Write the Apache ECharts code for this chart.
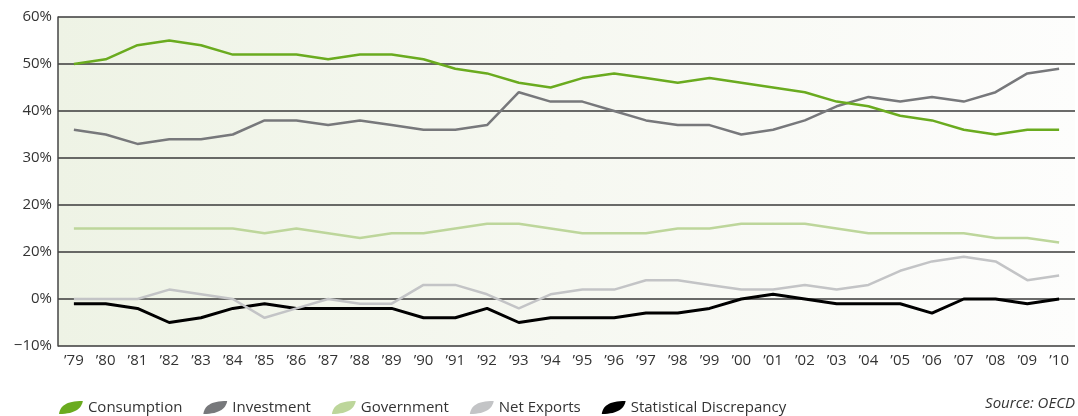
<!DOCTYPE html>
<html>
<head>
<meta charset="utf-8">
<script src="https://cdn.jsdelivr.net/npm/echarts@6/dist/echarts.min.js"></script>
<style>
html,body{margin:0;padding:0;background:#fff;}
#chart{width:1078px;height:416px;}
</style>
</head>
<body>
<div id="chart"></div>
<script>
const years = ["’79","’80","’81","’82","’83","’84","’85","’86","’87","’88","’89","’90","’91","’92","’93","’94","’95","’96","’97","’98","’99","’00","’01","’02","’03","’04","’05","’06","’07","’08","’09","’10"];
const consumption = [50,51,54,55,54,52,52,52,51,52,52,51,49,48,46,45,47,48,47,46,47,46,45,44,42,41,39,38,36,35,36,36];
const investment = [36,35,33,34,34,35,38,38,37,38,37,36,36,37,44,42,42,40,38,37,37,35,36,38,41,43,42,43,42,44,48,49];
const government = [15,15,15,15,15,15,14,15,14,13,14,14,15,16,16,15,14,14,14,15,15,16,16,16,15,14,14,14,14,13,13,12];
const netExports = [0,0,0,2,1,0,-4,-2,0,-1,-1,3,3,1,-2,1,2,2,4,4,3,2,2,3,2,3,6,8,9,8,4,5];
const discrepancy = [-1,-1,-2,-5,-4,-2,-1,-2,-2,-2,-2,-4,-4,-2,-5,-4,-4,-4,-3,-3,-2,0,1,0,-1,-1,-1,-3,0,0,-1,0];
const yTickValues = [-10,0,10,20,30,40,50,60];
const yTickLabels = ["−10%","0%","20%","20%","30%","40%","50%","60%"];

const seriesNames = ["Consumption","Investment","Government","Net Exports","Statistical Discrepancy"];
const seriesData = [consumption, investment, government, netExports, discrepancy];
const colors = ["#6aab1f","#77787b","#bdd69b","#c3c4c6","#000000"];
const leaf = "path://M0,12 C1,5 6,0 22,0 C21,6 16,12 0,12 Z";
const FONT = "'Open Sans', 'DejaVu Sans', sans-serif";

const chart = echarts.init(document.getElementById('chart'));
chart.setOption({
  animation: false,
  textStyle: { fontFamily: FONT },
  grid: {
    left: 58, right: 3, top: 17, bottom: 70,
    show: true, borderWidth: 0,
    backgroundColor: { type: 'linear', x: 0, y: 0, x2: 1, y2: 0,
      colorStops: [{ offset: 0, color: '#eef3e5' }, { offset: 0.5, color: '#f6f8f1' }, { offset: 1, color: '#fdfdfc' }] }
  },
  legend: {
    left: 54, top: 395, itemWidth: 24, itemHeight: 13, itemGap: 21,
    data: seriesNames.map((n, i) => ({ name: n, icon: leaf, itemStyle: { color: colors[i] } })),
    textStyle: { fontFamily: FONT, fontSize: 15, color: '#333', padding: [0, 0, 0, 0] }
  },
  graphic: [{
    type: 'text', right: 3, top: 396,
    style: { text: 'Source: OECD', font: 'italic 15px ' + FONT, fill: '#333' }
  }],
  xAxis: {
    type: 'category', data: years, boundaryGap: true,
    axisLine: { show: false }, axisTick: { show: false },
    axisLabel: { fontSize: 15, color: '#333', margin: 7, interval: 0 }
  },
  yAxis: {
    type: 'value', min: -10, max: 60, interval: 10,
    axisLine: { show: true, lineStyle: { color: '#444', width: 1.5 } },
    axisTick: { show: false },
    axisLabel: {
      fontSize: 15, color: '#333', margin: 6,
      formatter: v => { const i = yTickValues.indexOf(v); return i >= 0 ? yTickLabels[i] : ''; }
    },
    splitLine: { show: true, lineStyle: { color: '#3a3a3a', width: 1.5 } }
  },
  series: seriesData.map((d, i) => ({
    name: seriesNames[i], type: 'line', data: d, symbol: 'none',
    lineStyle: { color: colors[i], width: i === 4 ? 3 : 2.5 },
    itemStyle: { color: colors[i] },
    z: 10 - i
  }))
});
</script>
</body>
</html>
